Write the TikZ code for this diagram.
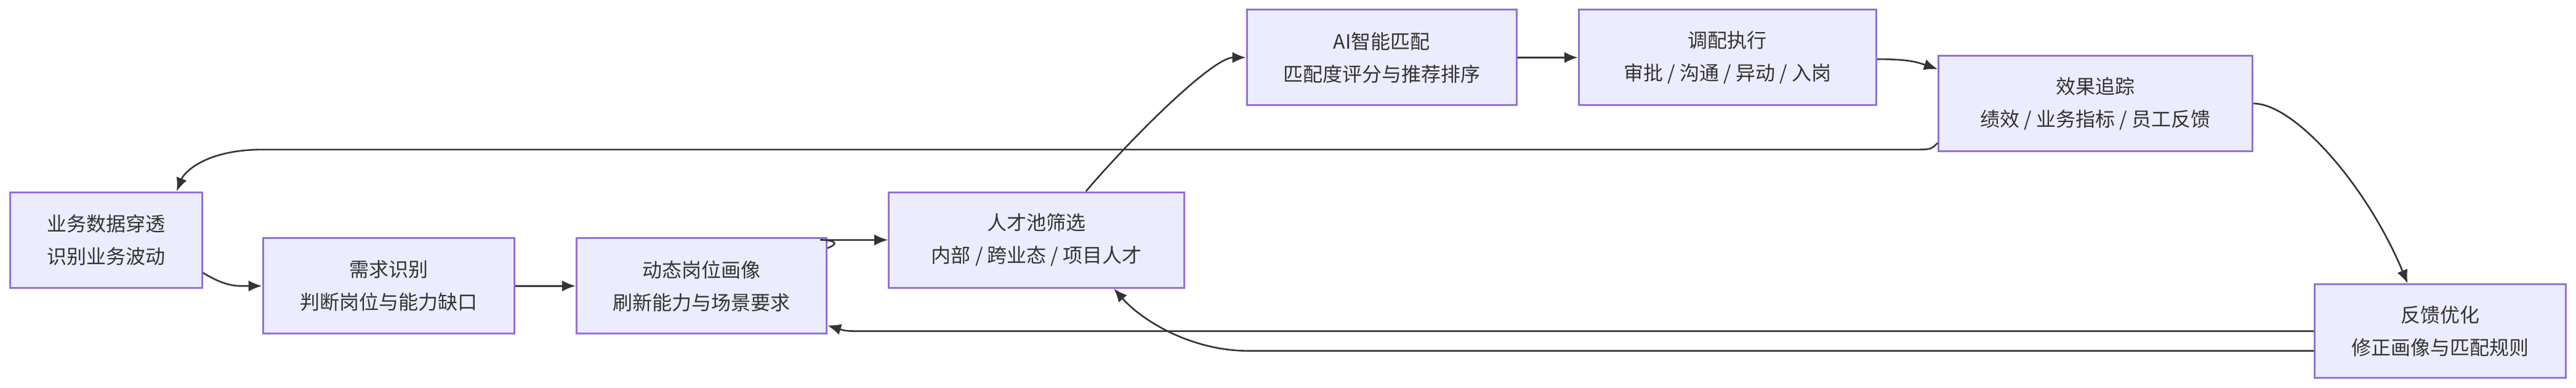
\documentclass[tikz,border=0pt]{standalone}
\usepackage{fontspec}
\setmainfont{Noto Sans CJK SC}
\usetikzlibrary{arrows.meta,calc}
\definecolor{nfill}{HTML}{ECECFF}
\definecolor{nline}{HTML}{9370DB}
\definecolor{eline}{HTML}{333333}
\tikzset{
  box/.style={draw=nline,fill=nfill,line width=3pt,minimum height=155pt,align=center,
    font=\fontsize{32pt}{53pt}\selectfont,text=eline,inner sep=0pt},
  edge/.style={draw=eline,line width=2.6pt,-{Latex[length=22pt,width=18pt]}}
}
\begin{document}
\begin{tikzpicture}[x=2.668pt,y=-2.668pt]
\useasboundingbox (0,0) rectangle (1568,236);
\node[box,minimum width=312pt] (A) at (64.5,146) {业务数据穿透\\识别业务波动};
\node[box,minimum width=408pt] (B) at (236.5,174) {需求识别\\判断岗位与能力缺口};
\node[box,minimum width=406pt] (C) at (427,174) {动态岗位画像\\刷新能力与场景要求};
\node[box,minimum width=480pt] (D) at (631,146) {人才池筛选\\内部 / 跨业态 / 项目人才};
\node[box,minimum width=438pt] (E) at (841,35) {AI智能匹配\\匹配度评分与推荐排序};
\node[box,minimum width=483pt] (F) at (1051.5,35) {调配执行\\审批 / 沟通 / 异动 / 入岗};
\node[box,minimum width=510pt] (G) at (1275.5,63) {效果追踪\\绩效 / 业务指标 / 员工反馈};
\node[box,minimum width=408pt,minimum height=152pt] (H) at (1485.5,201.5) {反馈优化\\修正画像与匹配规则};
\draw[edge] ($(A.east)+(0,20)$) .. controls +(15,9) and +(-15,0) .. (B.west);
\draw[edge] (B) -- (C);
\draw[edge] ($(C.east)+(0,-23)$) .. controls +(15,-6) and +(-15,0) .. (C.east |- D.west) -- (D.west);
\draw[edge] ($(D.north)+(30,0)$) .. controls +(30,-35) and +(-20,0) .. (E.west);
\draw[edge] (E) -- (F);
\draw[edge] ($(F.east)+(0,1)$) .. controls +(20,0) and +(-12,-4) .. ($(G.west)+(0,-21)$);
\draw[edge] ($(G.west)+(0,24)$) .. controls +(-4,4) .. (1165,91) -- (160,91) .. controls (125,91) and (112,105) .. ($(A.north)+(43,0)$);
\draw[edge] (G.east) .. controls +(25,0) and +(-25,-60) .. ($(H.north)+(-20,0)$);
\draw[edge] (H.west) -- (530,201.5) .. controls (515,201.5) .. ($(C.east)+(0,24)$);
\draw[edge] ($(H.west)+(0,12)$) -- (760,213.5) .. controls (725,213.5) and (695,195) .. ($(D.south)+(47,0)$);
\end{tikzpicture}
\end{document}
